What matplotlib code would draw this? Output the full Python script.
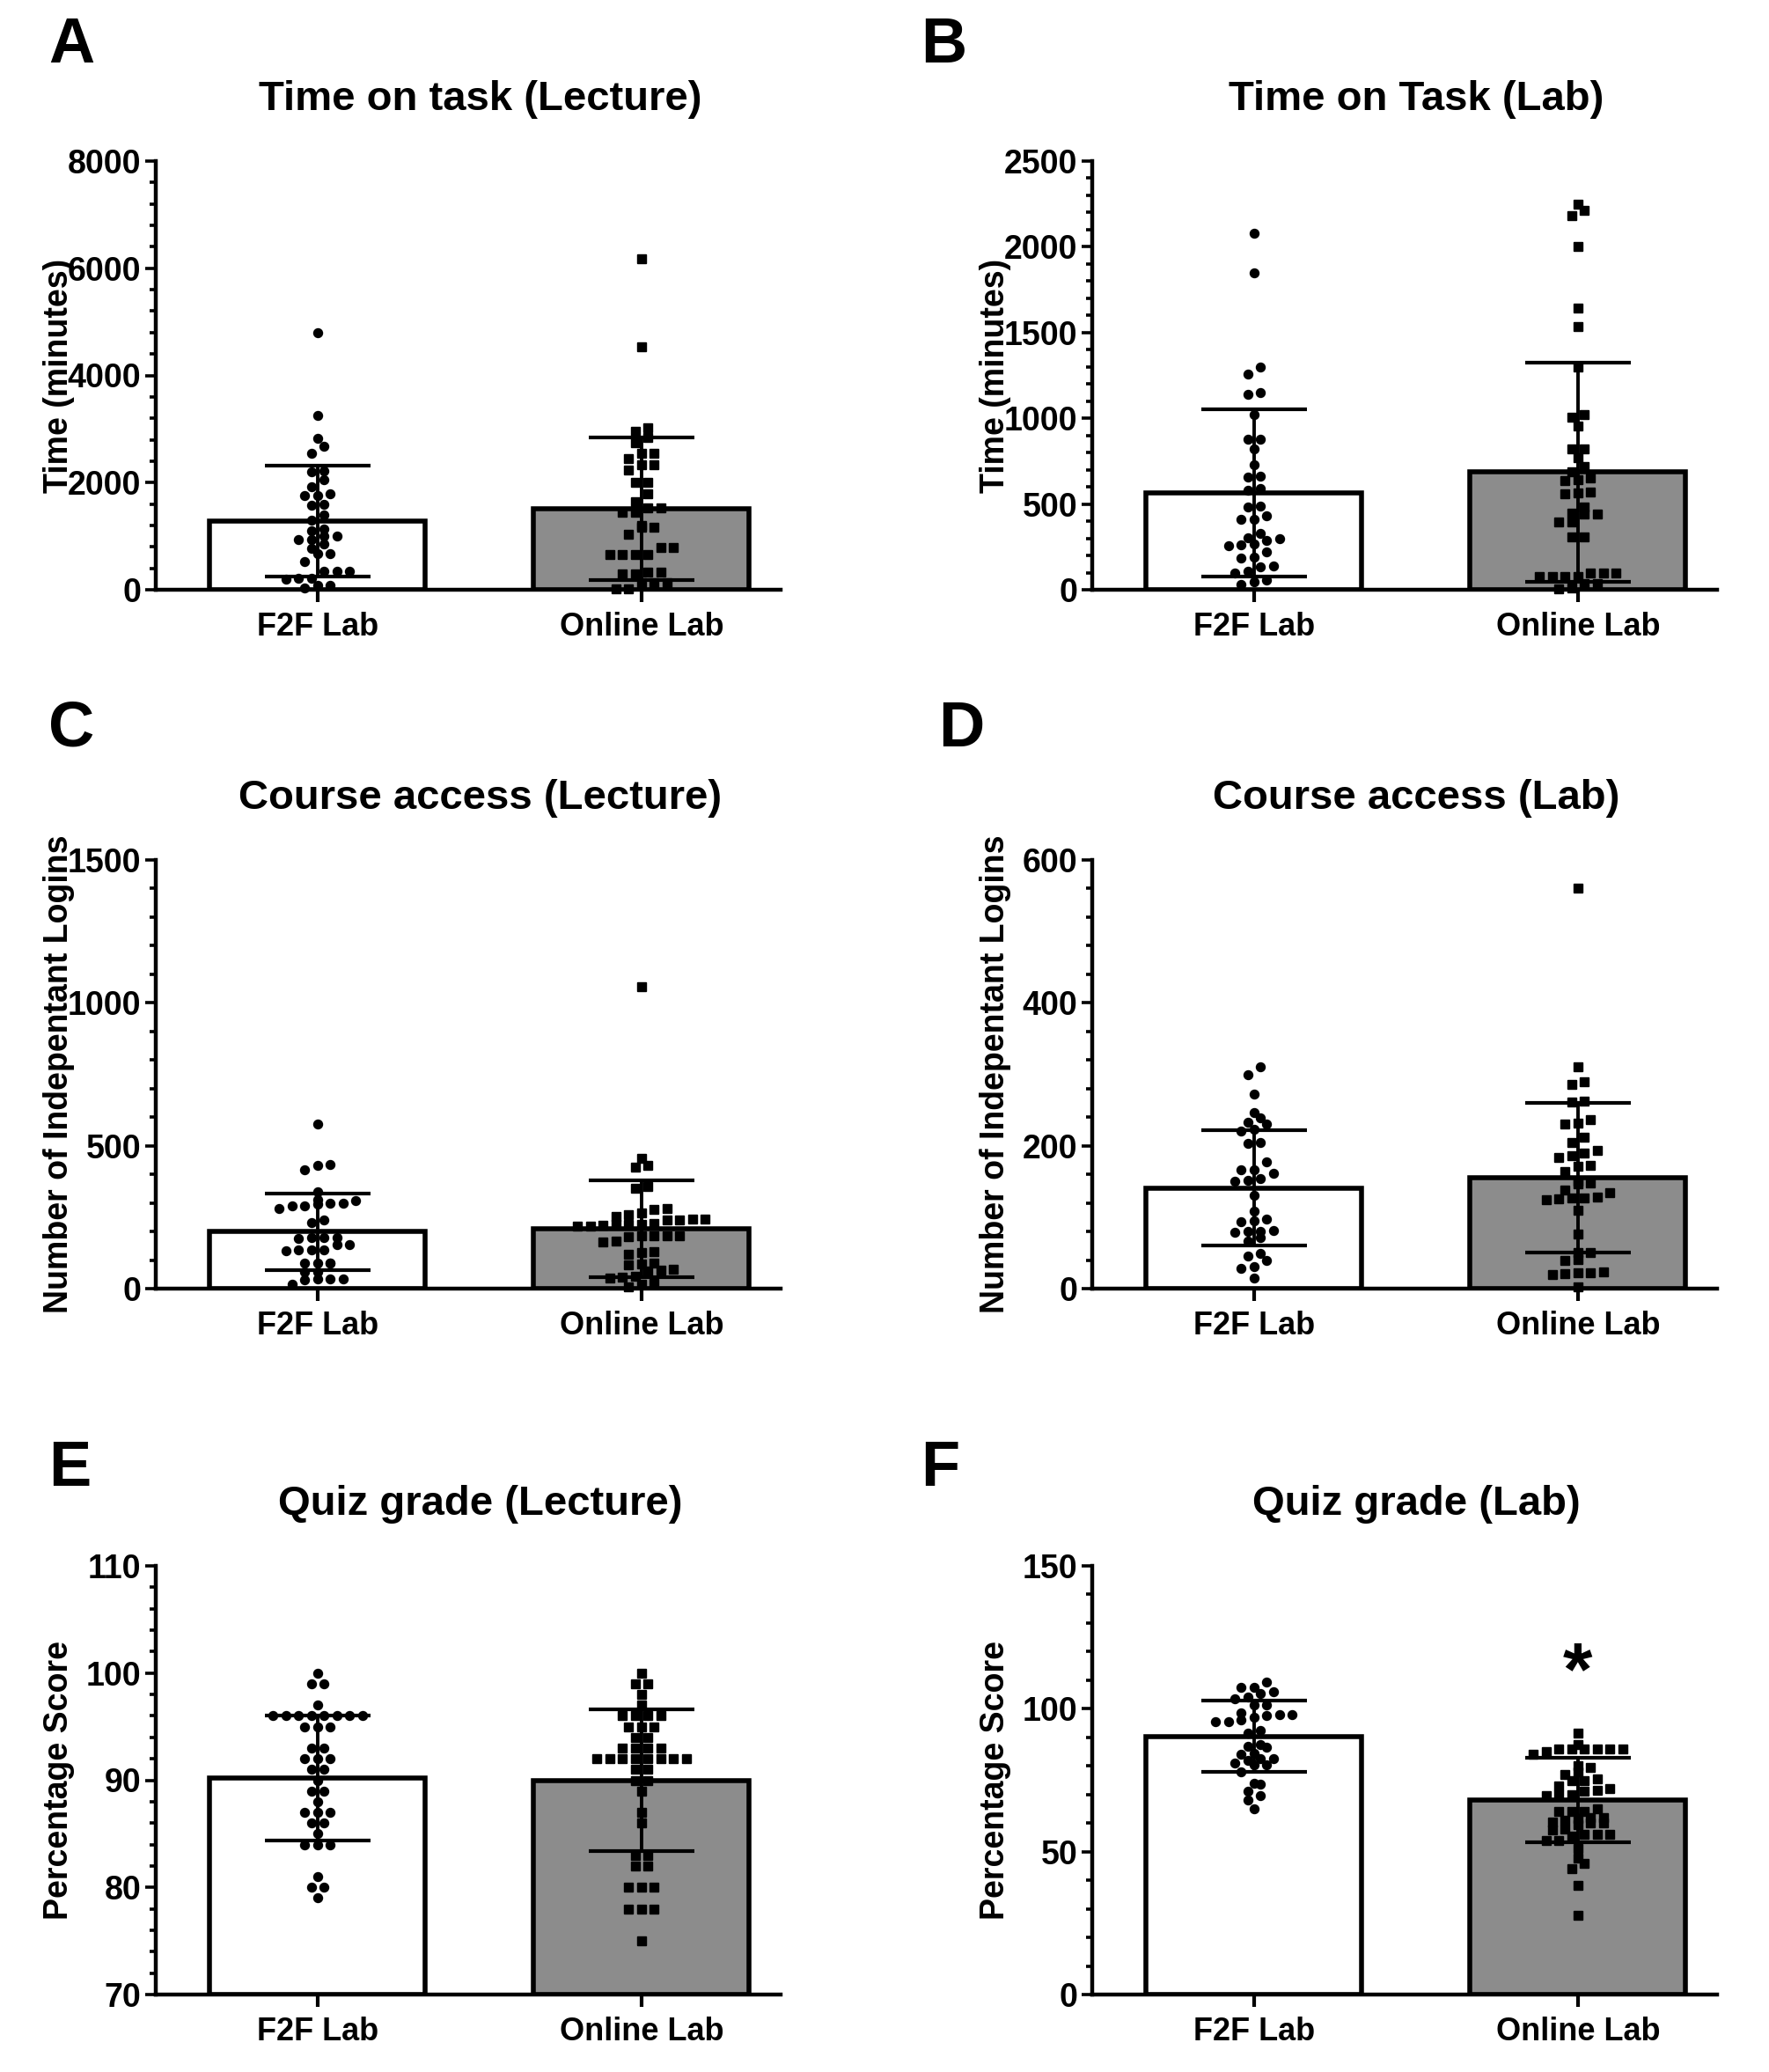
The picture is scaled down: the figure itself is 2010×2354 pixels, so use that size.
import numpy as np
import matplotlib
matplotlib.use('Agg')
import matplotlib.pyplot as plt
from matplotlib.ticker import MultipleLocator

plt.rcParams['font.family'] = ['Liberation Sans', 'DejaVu Sans']
plt.rcParams['font.weight'] = 'bold'

groups = ['F2F Lab', 'Online Lab']

# PANEL A: time on task (lecture)
lect_time_f2f = [4800, 3250, 2830, 2670, 2540, 2210, 2200, 2050, 1930, 1790, 1750, 1750,
                 1600, 1580, 1400, 1300, 1130, 1100, 1010, 1010, 940, 940, 850, 780, 670,
                 670, 530, 350, 350, 350, 220, 220, 200, 90, 90, 30]
lect_time_online = [6180, 4540, 3030, 2950, 2850, 2740, 2550, 2550, 2440, 2340, 2340, 2230,
                    2000, 2000, 1790, 1640, 1520, 1520, 1440, 1440, 1200, 1160, 1160, 1040,
                    790, 790, 660, 660, 660, 660, 330, 330, 290, 290, 130, 130, 130, 20, 20]
lect_time_mean = [1280, 1510]
lect_time_sd = [1035, 1333]

# PANEL B: time on task (lab)
lab_time_f2f = [2080, 1850, 1300, 1260, 1150, 1140, 1020, 880, 880, 820, 730, 660, 655, 590,
                580, 490, 485, 430, 410, 410, 330, 305, 300, 290, 265, 260, 255, 220, 190,
                185, 140, 135, 110, 100, 55, 45, 30]
lab_time_online = [2250, 2210, 2180, 2000, 1645, 1535, 1300, 1020, 1005, 955, 820, 820, 770,
                   720, 690, 650, 640, 635, 570, 565, 560, 480, 445, 440, 440, 395, 395, 310,
                   310, 100, 100, 100, 75, 75, 75, 75, 35, 35, 10, 5]
lab_time_mean = [565, 687]
lab_time_sd = [487, 640]

# PANEL C: course access (lecture)
lect_login_f2f = [575, 435, 430, 415, 340, 310, 307, 300, 298, 295, 290, 288, 280, 240, 230,
                  180, 178, 178, 175, 155, 153, 135, 134, 134, 133, 90, 90, 90, 88, 60, 60,
                  35, 35, 33, 32, 16]
lect_login_online = [1057, 455, 430, 425, 356, 350, 281, 276, 265, 260, 254, 243, 242, 241,
                     240, 228, 226, 225, 224, 222, 220, 218, 186, 185, 185, 184, 183, 165,
                     163, 128, 125, 120, 88, 85, 83, 67, 65, 62, 42, 40, 38, 18, 15, 5]
lect_login_mean = [200, 210]
lect_login_sd = [134, 170]

# PANEL D: course access (lab)
lab_login_f2f = [310, 299, 272, 247, 239, 233, 231, 223, 220, 205, 203, 177, 166, 166, 161,
                 154, 151, 150, 131, 108, 97, 95, 94, 81, 80, 80, 79, 71, 66, 49, 45, 39, 31,
                 28, 15]
lab_login_online = [561, 311, 290, 286, 262, 261, 236, 232, 230, 212, 204, 193, 190, 186,
                    183, 172, 171, 164, 150, 148, 147, 138, 134, 128, 127, 127, 126, 125,
                    110, 77, 51, 50, 41, 39, 23, 22, 22, 21, 20, 2]
lab_login_mean = [141, 155]
lab_login_sd = [81, 105]

# PANEL E: quiz grade (lecture)
lect_quiz_f2f = [100, 99, 99, 97, 96, 96, 96, 96, 96, 96, 96, 96, 95, 95, 95, 93, 93, 92, 92,
                 92, 91, 91, 90, 89, 89, 88, 87, 87, 87, 86, 86, 85, 84, 84, 84, 81, 80, 80, 79]
lect_quiz_online = [100, 99, 99, 98, 97, 96, 96, 96, 96, 95, 95, 95, 94, 94, 93, 93, 93, 93,
                    92, 92, 92, 92, 92, 92, 92, 92, 91, 91, 90, 90, 89, 87, 86, 83, 83, 82,
                    82, 80, 80, 80, 78, 78, 78, 75]
lect_quiz_mean = [90.2, 90.0]
lect_quiz_sd = [5.8, 6.6]

# PANEL F: quiz grade (lab)
lab_quiz_f2f = [109.3, 107.5, 107.5, 106, 105.3, 104, 103.5, 101.3, 101.3, 98.5, 98, 98,
                97.5, 97, 96, 95.5, 95.5, 92.5, 91.5, 87.5, 87, 86.5, 84.5, 84, 82.5, 82.5,
                82, 81, 80.5, 80.5, 78, 74, 73.5, 71, 69.5, 68, 65]
lab_quiz_online = [91.4, 87.4, 86, 86, 86, 86, 86, 86, 85, 84, 80, 79.5, 78, 77, 75.5, 75,
                   75, 73, 72, 71.5, 71, 70, 70, 69.5, 65, 64, 64, 64, 62, 62, 61.5, 61, 60.5,
                   60, 60, 59.5, 58, 57.5, 56, 56, 56, 55.5, 54, 54, 51, 47.6, 46, 44, 38.3,
                   27.6]
lab_quiz_mean = [90.4, 68.1]
lab_quiz_sd = [12.4, 14.9]

panels = [
    ('A', 'Time on task (Lecture)', 'Time (minutes)', lect_time_f2f, lect_time_online,
     lect_time_mean, lect_time_sd, (0, 8000), 2000),
    ('B', 'Time on Task (Lab)', 'Time (minutes)', lab_time_f2f, lab_time_online,
     lab_time_mean, lab_time_sd, (0, 2500), 500),
    ('C', 'Course access (Lecture)', 'Number of Indepentant Logins', lect_login_f2f,
     lect_login_online, lect_login_mean, lect_login_sd, (0, 1500), 500),
    ('D', 'Course access (Lab)', 'Number of Indepentant Logins', lab_login_f2f,
     lab_login_online, lab_login_mean, lab_login_sd, (0, 600), 200),
    ('E', 'Quiz grade (Lecture)', 'Percentage Score', lect_quiz_f2f, lect_quiz_online,
     lect_quiz_mean, lect_quiz_sd, (70, 110), 10),
    ('F', 'Quiz grade (Lab)', 'Percentage Score', lab_quiz_f2f, lab_quiz_online,
     lab_quiz_mean, lab_quiz_sd, (0, 150), 50),
]

W, H = 2010, 2354
fig = plt.figure(figsize=(W / 100, H / 100), dpi=100)

col_left = [177, 1241]
col_width = 710
row_top = [183, 977, 1779]
row_height = 487
letter_pos = [(55, 18), (1046, 18), (55, 795), (1066, 795), (55, 1635), (1046, 1635)]


def swarm_offsets(ax, vals, row_px=9.5, step_px=14.5):
    """spread points sideways: points closer than row_px (in y) share a row"""
    bbox = ax.get_window_extent()
    y0, y1 = ax.get_ylim()
    x0, x1 = ax.get_xlim()
    py = bbox.height / (y1 - y0)
    px = bbox.width / (x1 - x0)
    vals = np.asarray(vals, dtype=float)
    order = np.argsort(vals)
    offsets = np.zeros(len(vals))
    rows, cur = [], [order[0]]
    for i in order[1:]:
        if (vals[i] - vals[cur[0]]) * py < row_px:
            cur.append(i)
        else:
            rows.append(cur)
            cur = [i]
    rows.append(cur)
    for row in rows:
        n = len(row)
        for k, i in enumerate(row):
            offsets[i] = (k - (n - 1) / 2) * step_px / px
    return offsets


for idx, (letter, title, ylabel, f2f, online, means, sds, ylim, major) in enumerate(panels):
    r, c = divmod(idx, 2)
    left = col_left[c] / W
    bottom = 1 - (row_top[r] + row_height) / H
    ax = fig.add_axes([left, bottom, col_width / W, row_height / H])
    ax.set_xlim(-0.5, 1.43)
    ax.set_ylim(*ylim)

    x = np.array([0, 1])
    ax.bar(x, np.array(means) - ylim[0], bottom=ylim[0], width=0.666,
           color=['white', '#8c8c8c'], edgecolor='black', linewidth=4, zorder=2)

    for xi, vals, mk, ms in [(0, f2f, 'o', 7.2), (1, online, 's', 7.0)]:
        offs = swarm_offsets(ax, vals)
        ax.plot(xi + offs, vals, linestyle='none', marker=mk, markersize=ms,
                color='black', zorder=3, clip_on=False)

    ax.errorbar(x, means, yerr=sds, fmt='none', ecolor='black', elinewidth=2.8,
                capsize=43, capthick=3, zorder=4)

    for side in ['top', 'right']:
        ax.spines[side].set_visible(False)
    for side in ['left', 'bottom']:
        ax.spines[side].set_linewidth(3.2)

    ax.yaxis.set_major_locator(MultipleLocator(major))
    ax.yaxis.set_minor_locator(MultipleLocator(major / 5))
    ax.tick_params(axis='y', which='major', length=9, width=2.6, labelsize=27, pad=3)
    ax.tick_params(axis='y', which='minor', length=5, width=2.6)
    ax.set_xticks(x)
    ax.set_xticklabels(groups)
    ax.tick_params(axis='x', length=10, width=3, labelsize=26, pad=8)

    ax.set_title(title, fontsize=34, fontweight='bold', pad=42, x=0.519)
    ax.set_ylabel(ylabel, fontsize=27, fontweight='bold')
    ax.yaxis.set_label_coords(-0.13, 0.5)

    lx, ly = letter_pos[idx]
    fig.text(lx / W, 1 - ly / H, letter, fontsize=52, fontweight='bold', ha='left', va='top')

    if letter == 'F':
        ax.text(1, 111.7, '*', fontsize=62, fontweight='bold', ha='center', va='center')

fig.savefig('out.png', dpi=100)
